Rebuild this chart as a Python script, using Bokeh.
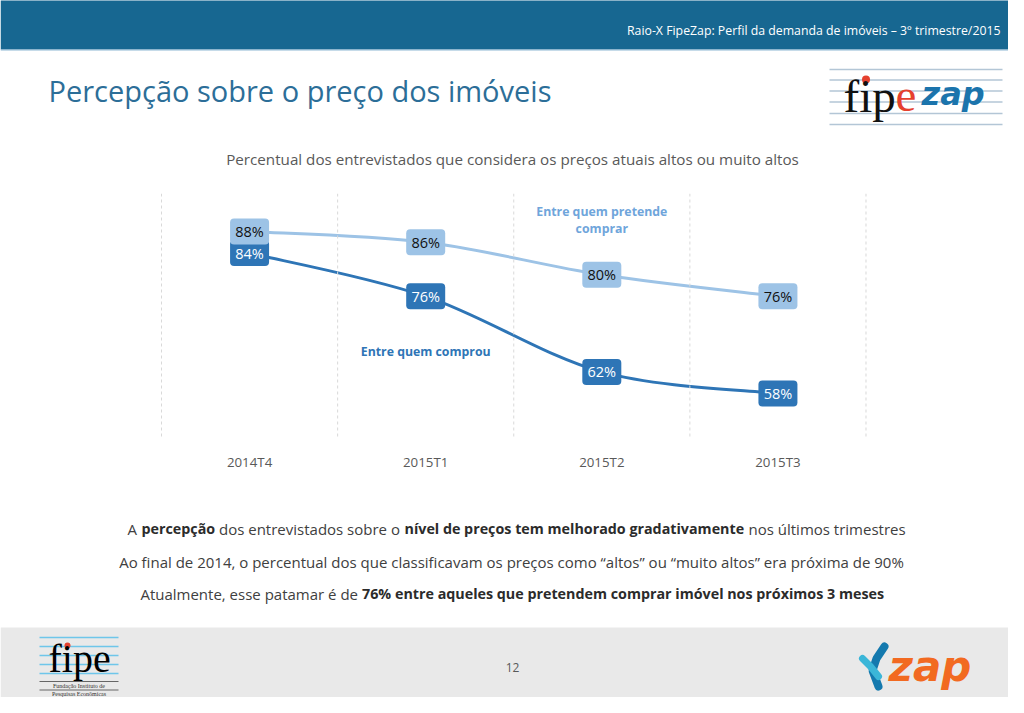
from bokeh.plotting import figure
from bokeh.layouts import column
from bokeh.models import Range1d, Span, Label, FixedTicker
from bokeh.core.properties import value
from bokeh.embed import file_html
from bokeh.resources import INLINE

# ---------------- data ----------------
categories = ["2014T4", "2015T1", "2015T2", "2015T3"]
pretende_comprar = [88, 86, 80, 76]
comprou = [84, 76, 62, 58]
series_names = ["Entre quem pretende", "comprar", "Entre quem comprou"]

header_text = "Raio-X FipeZap: Perfil da demanda de imóveis – 3º trimestre/2015"
title_text = "Percepção sobre o preço dos imóveis"
subtitle_text = "Percentual dos entrevistados que considera os preços atuais altos ou muito altos"
page_number = "12"

FONT = "Open Sans"
W = 1008
LIGHT = "#9DC3E6"
DARK = "#2E75B6"


def blank(height, y_top, y_bottom):
    p = figure(width=W, height=height, x_range=Range1d(0, W),
               y_range=Range1d(y_bottom, y_top), min_border=0,
               toolbar_location=None, output_backend="svg",
               x_axis_location=None, y_axis_location=None)
    p.outline_line_color = None
    p.grid.visible = False
    return p


def txt(p, x, y, s, size, color, align="left", baseline="middle",
        font=FONT, style="normal"):
    p.add_layout(Label(x=x, y=y, text=s, text_font=font,
                       text_font_size=f"{size}px", text_color=color,
                       text_align=align, text_baseline=baseline,
                       text_font_style=style))


# ---------------- top part (header, title, logo, subtitle) ----------------
top = blank(193, 0, 193)
top.quad(left=[0], right=[1030], top=[-5], bottom=[49], fill_color="#176791",
         line_color=None)
top.segment(x0=[0], y0=[49.5], x1=[1030], y1=[49.5], line_color="#8DB7D3",
            line_width=1)
txt(top, 1000, 30, header_text, 12.3, "#FFFFFF", align="right")
txt(top, 48, 90, title_text, 29, "#2C6E98")
txt(top, 512, 158, subtitle_text, 15.2, "#595959", align="center")

# fipezap logo
logo_lines = [69, 79.5, 90.5, 101.5, 113, 124]
top.segment(x0=[829] * 6, y0=logo_lines, x1=[1002] * 6, y1=logo_lines,
            line_color="#B3C6D6", line_width=1.5)
txt(top, 843, 95, "fip", 47, "#111111", baseline="alphabetic",
    font="Liberation Serif")
txt(top, 895, 95, "e", 47, "#E5412F", baseline="alphabetic",
    font="Liberation Serif")
top.scatter(x=[865.5], y=[79], size=8, fill_color="#E5412F", line_color=None)
txt(top, 921, 93, "zap", 32, "#1B74AC", baseline="alphabetic",
    font="DejaVu Sans", style="bold italic")

# ---------------- chart ----------------
n = len(categories)
band = 176.1
left_edge, right_edge = 161.0, 865.5
chart = figure(width=W, height=297,
               x_range=Range1d(-0.5 - left_edge / band,
                               n - 0.5 + (W - right_edge) / band),
               y_range=Range1d(49.67, 95.04), min_border_left=0,
               min_border_right=0, min_border_top=0, min_border_bottom=52,
               toolbar_location=None, output_backend="svg",
               y_axis_location=None)
chart.outline_line_color = None
chart.grid.visible = False
ax = chart.xaxis[0]
ax.ticker = FixedTicker(ticks=list(range(n)))
ax.major_label_overrides = {i: c for i, c in enumerate(categories)}
ax.axis_line_color = None
ax.major_tick_line_color = None
ax.minor_tick_line_color = None
ax.major_tick_out = 0
ax.major_tick_in = 0
ax.major_label_standoff = 14
ax.major_label_text_font = FONT
ax.major_label_text_font_size = "13.3px"
ax.major_label_text_color = "#595959"

for i in range(n + 1):
    chart.add_layout(Span(location=i - 0.5, dimension="height",
                          line_color="#D9D9D9", line_dash="3 3",
                          line_width=1))


def bezier_parts(vals):
    xs = list(range(len(vals)))
    m = len(vals)
    out = {k: [] for k in ("x0", "y0", "x1", "y1", "cx0", "cy0", "cx1", "cy1")}
    for i in range(m - 1):
        a = max(i - 1, 0)
        d = min(i + 2, m - 1)
        out["x0"].append(xs[i]); out["y0"].append(vals[i])
        out["x1"].append(xs[i + 1]); out["y1"].append(vals[i + 1])
        out["cx0"].append(xs[i] + (xs[i + 1] - xs[a]) / 6)
        out["cy0"].append(vals[i] + (vals[i + 1] - vals[a]) / 6)
        out["cx1"].append(xs[i + 1] - (xs[d] - xs[i]) / 6)
        out["cy1"].append(vals[i + 1] - (vals[d] - vals[i]) / 6)
    return out


def draw_series(vals, color, text_color):
    chart.bezier(**bezier_parts(vals), line_color=color, line_width=3)
    xs = list(range(len(vals)))
    chart.rect(x=xs, y=vals, width=39, height=26, width_units="screen",
               height_units="screen", fill_color=color, line_color=None,
               border_radius=4)
    chart.text(x=xs, y=vals, text=[f"{v}%" for v in vals],
               text_align="center", text_baseline="middle",
               text_font=value(FONT), text_font_size="14.5px",
               text_color=text_color)


draw_series(comprou, DARK, "#FFFFFF")
draw_series(pretende_comprar, LIGHT, "#111111")

for (xx, yy, s, c) in [(2, 91.7, series_names[0], "#6FA5DB"),
                       (2, 88.55, series_names[1], "#6FA5DB"),
                       (1, 65.8, series_names[2], DARK)]:
    chart.add_layout(Label(x=xx, y=yy, text=s, text_font=FONT,
                           text_font_size="12.3px", text_font_style="bold",
                           text_color=c, text_align="center",
                           text_baseline="middle"))

# ---------------- bottom part (comments + footer) ----------------
bot = blank(207, 490, 697)
N_C = "#404040"
B_C = "#2B2B2B"
S = 15
SB = 14.3
txt(bot, 127, 528, "A", S, N_C)
txt(bot, 141, 528, "percepção", SB, B_C, style="bold")
txt(bot, 218.5, 528, "dos entrevistados sobre o", S, N_C)
txt(bot, 404, 528, "nível de preços tem melhorado gradativamente", SB, B_C,
    style="bold")
txt(bot, 748, 528, "nos últimos trimestres", S, N_C)
txt(bot, 511, 561, "Ao final de 2014, o percentual dos que classificavam os preços "
    "como “altos” ou “muito altos” era próxima de 90%", S, N_C, align="center")
txt(bot, 357.5, 593, "Atualmente, esse patamar é de", S, N_C, align="right")
txt(bot, 361.5, 593, "76% entre aqueles que pretendem comprar imóvel nos próximos "
    "3 meses", SB, B_C, style="bold")

bot.quad(left=[0], right=[1030], top=[627], bottom=[720], fill_color="#E9E9E9",
         line_color=None)
txt(bot, 512, 667, page_number, 12, "#595959", align="center")

# fipe logo
fl = [637, 646, 655, 664, 673]
bot.segment(x0=[39] * 5, y0=fl, x1=[118] * 5, y1=fl, line_color="#6EC6EA",
            line_width=1.5)
txt(bot, 48, 658, "fipe", 40, "#000000", baseline="alphabetic",
    font="Liberation Serif")
bot.scatter(x=[67], y=[645], size=6, fill_color="#E5412F", line_color=None)
bot.segment(x0=[39, 39], y0=[681, 689.5], x1=[118, 118], y1=[681, 689.5],
            line_color="#666666", line_width=1.2)
txt(bot, 78.5, 685.3, "Fundação Instituto de", 6, "#333333", align="center",
    font="Liberation Serif")
txt(bot, 78.5, 693.3, "Pesquisas Econômicas", 6, "#333333", align="center",
    font="Liberation Serif")

# zap logo
bot.line(x=[884, 876, 872, 878], y=[646, 658, 670, 686], line_color="#1479AE",
         line_width=8, line_cap="round")
bot.line(x=[862, 870, 878], y=[658, 666, 676], line_color="#3BB6D8",
         line_width=7, line_cap="round")
txt(bot, 888, 666, "zap", 42, "#F26A21", baseline="alphabetic",
    font="DejaVu Sans", style="bold italic")

layout = column(top, chart, bot, spacing=0)
open("out.html", "w").write(file_html(layout, INLINE))
